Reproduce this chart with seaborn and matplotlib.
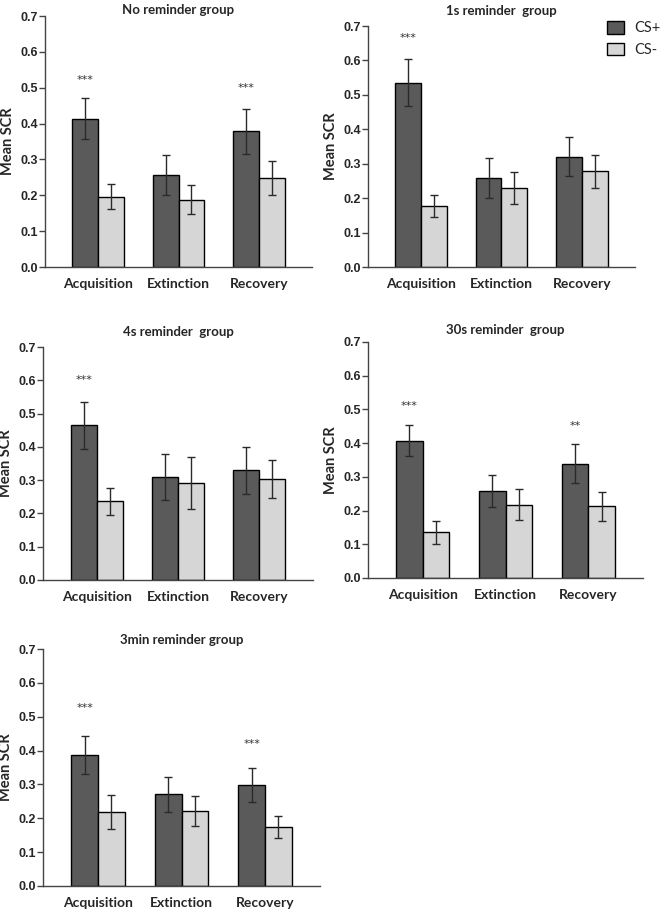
import pandas as pd
import matplotlib.pyplot as plt
import seaborn as sns

# --- Data ---
phases = ["Acquisition", "Extinction", "Recovery"]
stimuli = ["CS+", "CS-"]
groups = ["No reminder group", "1s reminder  group", "4s reminder  group",
          "30s reminder  group", "3min reminder group"]

# means per group, order: Acq CS+, Acq CS-, Ext CS+, Ext CS-, Rec CS+, Rec CS-
mean_none = [0.414, 0.196, 0.257, 0.188, 0.378, 0.248]
mean_1s = [0.535, 0.177, 0.259, 0.230, 0.320, 0.278]
mean_4s = [0.465, 0.236, 0.310, 0.292, 0.329, 0.303]
mean_30s = [0.407, 0.135, 0.259, 0.218, 0.339, 0.213]
mean_3min = [0.386, 0.219, 0.271, 0.221, 0.298, 0.174]

sem_none = [0.057, 0.035, 0.056, 0.040, 0.063, 0.048]
sem_1s = [0.068, 0.033, 0.058, 0.047, 0.057, 0.048]
sem_4s = [0.070, 0.040, 0.069, 0.079, 0.071, 0.058]
sem_30s = [0.046, 0.033, 0.047, 0.046, 0.058, 0.043]
sem_3min = [0.056, 0.050, 0.052, 0.044, 0.051, 0.033]

# significance markers: (phase index, y, label)
stars_none = [(0, 0.522, "***"), (2, 0.500, "***")]
stars_1s = [(0, 0.665, "***")]
stars_4s = [(0, 0.600, "***")]
stars_30s = [(0, 0.510, "***"), (2, 0.450, "**")]
stars_3min = [(0, 0.525, "***"), (2, 0.418, "***")]

means = [mean_none, mean_1s, mean_4s, mean_30s, mean_3min]
sems = [sem_none, sem_1s, sem_4s, sem_30s, sem_3min]
stars = [stars_none, stars_1s, stars_4s, stars_30s, stars_3min]

rows = []
for g, m_list, s_list in zip(groups, means, sems):
    i = 0
    for p in phases:
        for s in stimuli:
            rows.append({"group": g, "phase": p, "stimulus": s,
                         "mean": m_list[i], "sem": s_list[i]})
            i += 1
df = pd.DataFrame(rows)

# --- Style ---
sns.set_style("ticks")
plt.rcParams["font.family"] = ["Lato", "DejaVu Sans"]
palette = {"CS+": "#5a5a5a", "CS-": "#d6d6d6"}
W, H = 660, 911

# axes boxes in pixels: left, right, top, bottom
boxes = [(45, 312, 16, 267), (368, 635, 26, 267), (43, 313, 347, 580),
         (368, 643, 342, 578), (43, 320, 649, 886)]
title_pads = [1.5, 8, 8, 5.8, 3.6]

fig = plt.figure(figsize=(6.6, 9.11), dpi=100)

for k, g in enumerate(groups):
    l, r, t, b = boxes[k]
    ax = fig.add_axes([l / W, 1 - b / H, (r - l) / W, (b - t) / H])
    sub = df[df["group"] == g]
    sns.barplot(data=sub, x="phase", y="mean", hue="stimulus", order=phases,
                hue_order=stimuli, palette=palette, width=0.64, errorbar=None,
                edgecolor="black", linewidth=1.0, legend=(k == 1), ax=ax)

    # error bars at bar centres
    for cont, s in zip(ax.containers, stimuli):
        part = sub[sub["stimulus"] == s].set_index("phase").loc[phases]
        xs = [p.get_x() + p.get_width() / 2 for p in cont.patches]
        ax.errorbar(xs, part["mean"], yerr=part["sem"], fmt="none",
                    ecolor="#2a2a2a", elinewidth=1.0, capsize=3.2, capthick=1.0)

    # significance stars over CS+ bar
    cs_plus = ax.containers[0].patches
    for idx, y, lab in stars[k]:
        p = cs_plus[idx]
        ax.text(p.get_x() + p.get_width() / 2, y, lab, ha="center",
                va="center", fontsize=8, color="#333333",
                family="DejaVu Sans")

    ax.set_xlim(-0.66, 2.66)
    ax.set_ylim(0, 0.7)
    ax.set_yticks([0, 0.1, 0.2, 0.3, 0.4, 0.5, 0.6, 0.7])
    ax.set_yticklabels([f"{v:.1f}" for v in ax.get_yticks()],
                       family="Liberation Sans", fontweight="bold", fontsize=9)
    ax.tick_params(axis="x", length=0, labelsize=10, pad=8)
    for lab in ax.get_xticklabels():
        lab.set_fontweight("bold")
    ax.tick_params(axis="y", length=4, width=1, pad=1, color="#444444")
    ax.set_xlabel("")
    ax.set_ylabel("Mean SCR", fontsize=10.5, fontweight="bold", labelpad=4)
    ax.set_title(g, fontsize=9.5, fontweight="bold", pad=title_pads[k])
    sns.despine(ax=ax)
    for sp in ["left", "bottom"]:
        ax.spines[sp].set_color("#444444")
        ax.spines[sp].set_linewidth(1.0)

    if k == 1:
        handles, labels = ax.get_legend_handles_labels()
        ax.legend(handles, labels, loc="upper left",
                  bbox_to_anchor=(607 / W, 1 - 21 / H),
                  bbox_transform=fig.transFigure, frameon=False,
                  fontsize=10.5, handlelength=1.17, handleheight=0.95,
                  handletextpad=0.7, labelspacing=0.5, borderpad=0,
                  borderaxespad=0)

fig.savefig("out.png", dpi=100)
